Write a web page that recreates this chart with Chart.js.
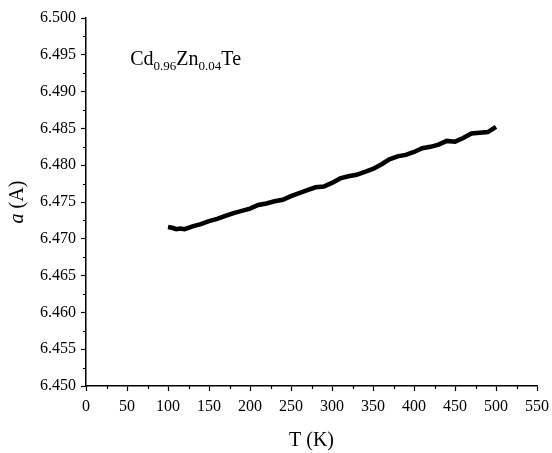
<!DOCTYPE html>
<html>
<head>
<meta charset="utf-8">
<script src="https://cdn.jsdelivr.net/npm/chart.js@4.4.1/dist/chart.umd.min.js"></script>
<style>
  html, body { margin: 0; padding: 0; background: #ffffff; }
  #c { display: block; }
</style>
</head>
<body>
<canvas id="c" width="552" height="453"></canvas>
<script>
// ---- data ----
const temperatures = [100, 105, 110, 115, 120, 125, 130, 140, 150, 160, 170, 180, 190, 200,
  210, 220, 230, 240, 250, 260, 270, 280, 290, 300, 310, 320, 330, 340, 350,
  360, 370, 380, 390, 400, 410, 420, 430, 440, 450, 460, 470, 480, 490, 500];
const latticeA = [6.4716, 6.4715, 6.4713, 6.4714, 6.4713, 6.4715, 6.4717, 6.4720, 6.4724, 6.4727,
  6.4731, 6.4735, 6.4738, 6.4741, 6.4746, 6.4748, 6.4751, 6.4753, 6.4758, 6.4762,
  6.4766, 6.4770, 6.4771, 6.4776, 6.4782, 6.4785, 6.4787, 6.4791, 6.4795, 6.4801,
  6.4808, 6.4812, 6.4814, 6.4818, 6.4823, 6.4825, 6.4828, 6.4833, 6.4832, 6.4837,
  6.4843, 6.4844, 6.4845, 6.4852];
const xTickMin = 0, xTickMax = 550, xStep = 50, xMinorStep = 25;
const yTickMin = 6.45, yTickMax = 6.5, yStep = 0.005, yMinorStep = 0.0025;
const xTitle = 'T (K)';
const yTitleItalic = 'a';
const yTitleRest = ' (A)';
const compoundParts = [['Cd', false], ['0.96', true], ['Zn', false], ['0.04', true], ['Te', false]];

const FONT = '"Liberation Serif", "Times New Roman", serif';

const points = temperatures.map((t, i) => ({ x: t, y: latticeA[i] }));

const extrasPlugin = {
  id: 'extras',
  afterDraw(chart) {
    const ctx = chart.ctx;
    const xs = chart.scales.x, ys = chart.scales.y;
    const area = chart.chartArea;
    ctx.save();
    // minor ticks
    ctx.strokeStyle = '#000';
    ctx.lineWidth = 1.2;
    ctx.beginPath();
    for (let v = xTickMin + xMinorStep; v < xTickMax; v += xStep) {
      const px = Math.round(xs.getPixelForValue(v)) + 0.5;
      ctx.moveTo(px, area.bottom);
      ctx.lineTo(px, area.bottom + 3);
    }
    for (let k = 0; k < Math.round((yTickMax - yTickMin) / yStep); k++) {
      const v = yTickMin + yMinorStep + k * yStep;
      const py = Math.round(ys.getPixelForValue(v)) + 0.5;
      ctx.moveTo(area.left - 3, py);
      ctx.lineTo(area.left, py);
    }
    ctx.stroke();

    // y-axis title: italic "a" + " (A)"
    ctx.fillStyle = '#000';
    const cy = (area.top + area.bottom) / 2;
    ctx.translate(18, cy);
    ctx.rotate(-Math.PI / 2);
    ctx.textBaseline = 'middle';
    ctx.textAlign = 'left';
    ctx.font = 'italic 20px ' + FONT;
    const w1 = ctx.measureText(yTitleItalic).width;
    ctx.font = '20px ' + FONT;
    const w2 = ctx.measureText(yTitleRest).width;
    let sx = -(w1 + w2) / 2;
    ctx.font = 'italic 20px ' + FONT;
    ctx.fillText(yTitleItalic, sx, 0);
    ctx.font = '20px ' + FONT;
    ctx.fillText(yTitleRest, sx + w1, 0);
    ctx.setTransform(1, 0, 0, 1, 0, 0);

    // compound annotation
    let ax = xs.getPixelForValue(54);
    const ay = ys.getPixelForValue(6.4936);
    ctx.textBaseline = 'alphabetic';
    compoundParts.forEach(([txt, sub]) => {
      ctx.font = (sub ? '13px ' : '20px ') + FONT;
      ctx.fillText(txt, ax, sub ? ay + 5 : ay);
      ax += ctx.measureText(txt).width;
    });
    ctx.restore();
  }
};

new Chart(document.getElementById('c'), {
  type: 'line',
  data: {
    datasets: [{
      data: points,
      borderColor: '#000',
      backgroundColor: '#000',
      borderWidth: 4.5,
      pointRadius: 0,
      tension: 0,
      fill: false
    }]
  },
  options: {
    responsive: false,
    animation: false,
    devicePixelRatio: 1,
    layout: { padding: { top: 18, right: 15, left: 0, bottom: 0 } },
    plugins: { legend: { display: false }, tooltip: { enabled: false } },
    scales: {
      x: {
        type: 'linear',
        min: xTickMin, max: xTickMax,
        afterFit(scale) { scale.height = 67; scale.paddingLeft = 0; scale.paddingRight = 0; },
        border: { display: true, color: '#000', width: 1.5 },
        grid: { drawOnChartArea: false, drawTicks: true, tickLength: 5, tickColor: '#000', tickWidth: 1.2 },
        ticks: {
          stepSize: xStep, color: '#000', padding: 6, maxRotation: 0,
          font: { family: FONT, size: 16 }
        },
        title: {
          display: true, text: xTitle, color: '#000',
          font: { family: FONT, size: 20 }, padding: { top: 4, bottom: 0 }
        }
      },
      y: {
        type: 'linear',
        min: yTickMin, max: yTickMax,
        afterFit(scale) { scale.width = 86; scale.paddingTop = 0; scale.paddingBottom = 0; },
        border: { display: true, color: '#000', width: 1.5 },
        grid: { drawOnChartArea: false, drawTicks: true, tickLength: 5, tickColor: '#000', tickWidth: 1.2 },
        ticks: {
          stepSize: yStep, color: '#000', padding: 5,
          font: { family: FONT, size: 16 },
          callback: (v) => Number(v).toFixed(3)
        }
      }
    }
  },
  plugins: [extrasPlugin]
});
</script>
</body>
</html>
